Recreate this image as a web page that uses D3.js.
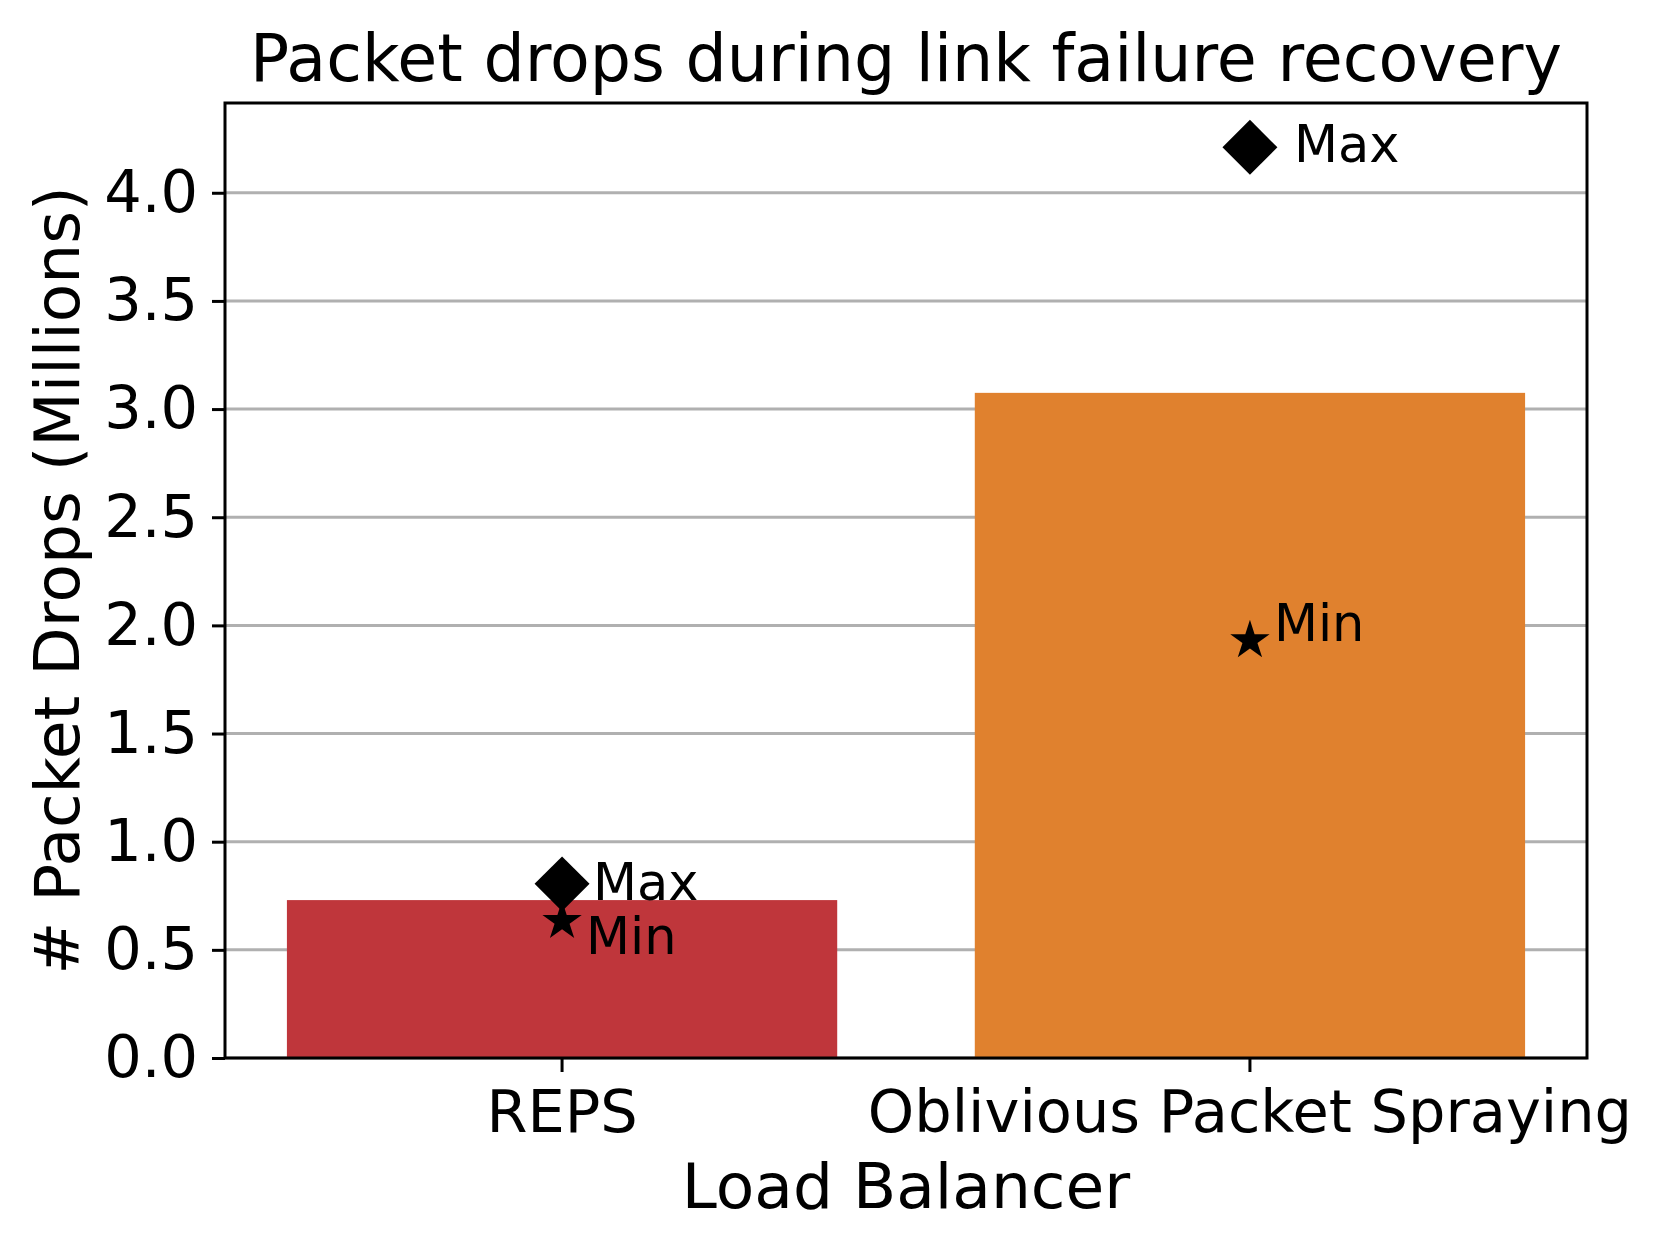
<!DOCTYPE html>
<html>
<head>
<meta charset="utf-8">
<script src="https://cdn.jsdelivr.net/npm/d3@7"></script>
<style>
  body { margin: 0; background: #fff; }
  text { font-family: 'DejaVu Sans', sans-serif; fill: #000; }
</style>
</head>
<body>
<div id="chart"></div>
<script>
var width = 1660;
var height = 1248;

var margin = { top: 103, right: 73, bottom: 190, left: 225 };

// data (millions of packet drops)
var categories = ['REPS', 'Oblivious Packet Spraying'];
var meanDrops = [0.73, 3.075];
var maxDrops = [0.805, 4.21];
var minDrops = [0.632, 1.93];
var barColors = ['#bf363b', '#e0812e'];
var yTicks = [0, 0.5, 1, 1.5, 2, 2.5, 3, 3.5, 4];

// label nudges in pixels, [dx, dy] per category
var maxLabelNudge = [[31, 16], [44, 15]];
var minLabelNudge = [[24, 33], [24, 0]];

document.addEventListener('DOMContentLoaded', init, false);

function init() {
  var w = width - margin.left - margin.right;
  var h = height - margin.top - margin.bottom;

  var svg = d3.select('#chart')
    .append('svg')
      .attr('width', width)
      .attr('height', height);

  svg.append('rect')
    .attr('width', width)
    .attr('height', height)
    .attr('fill', '#fff');

  var chart = svg.append('g')
    .attr('transform', 'translate(' + margin.left + ',' + margin.top + ')');

  var x = d3.scaleBand()
    .domain(categories)
    .range([0, w])
    .paddingInner(0.2)
    .paddingOuter(0.09);

  var y = d3.scaleLinear()
    .domain([0, 4.415])
    .range([h, 0]);

  // grid
  chart.append('g')
    .selectAll('line')
    .data(yTicks)
    .enter()
    .append('line')
      .attr('x1', 0)
      .attr('x2', w)
      .attr('y1', function (d) { return y(d); })
      .attr('y2', function (d) { return y(d); })
      .attr('stroke', '#b0b0b0')
      .attr('stroke-width', 3);

  // bars
  chart.selectAll('.bar')
    .data(categories)
    .enter()
    .append('rect')
      .attr('class', 'bar')
      .attr('x', function (d) { return x(d); })
      .attr('width', x.bandwidth())
      .attr('y', function (d, i) { return y(meanDrops[i]); })
      .attr('height', function (d, i) { return h - y(meanDrops[i]); })
      .attr('fill', function (d, i) { return barColors[i]; });

  // axes
  var yAxis = chart.append('g')
    .call(d3.axisLeft(y).tickValues(yTicks).tickFormat(d3.format('.1f')).tickSize(13).tickPadding(14));

  var xAxis = chart.append('g')
    .attr('transform', 'translate(0,' + h + ')')
    .call(d3.axisBottom(x).tickSize(14).tickPadding(18));

  [yAxis, xAxis].forEach(function (a) {
    a.select('.domain').remove();
    a.selectAll('line').attr('stroke', '#000').attr('stroke-width', 3);
    a.selectAll('text')
      .style('font-family', "'DejaVu Sans', sans-serif")
      .style('font-size', '59px')
      .attr('fill', '#000');
  });

  chart.append('rect')
    .attr('width', w)
    .attr('height', h)
    .attr('fill', 'none')
    .attr('stroke', '#000')
    .attr('stroke-width', 3);

  // markers
  var cx = function (i) { return x(categories[i]) + x.bandwidth() / 2; };

  var diamond = d3.symbol().type(d3.symbolSquare).size(1510);
  var star = d3.symbol().type(d3.symbolStar).size(480);

  chart.selectAll('.maxMark')
    .data(maxDrops)
    .enter()
    .append('path')
      .attr('d', diamond)
      .attr('transform', function (d, i) {
        return 'translate(' + cx(i) + ',' + y(d) + ') rotate(45)';
      })
      .attr('fill', '#000');

  chart.selectAll('.minMark')
    .data(minDrops)
    .enter()
    .append('path')
      .attr('d', star)
      .attr('transform', function (d, i) {
        return 'translate(' + cx(i) + ',' + y(d) + ')';
      })
      .attr('fill', '#000');

  chart.selectAll('.maxLabel')
    .data(maxDrops)
    .enter()
    .append('text')
      .attr('x', function (d, i) { return cx(i) + maxLabelNudge[i][0]; })
      .attr('y', function (d, i) { return y(d) + maxLabelNudge[i][1]; })
      .style('font-size', '51px')
      .text('Max');

  chart.selectAll('.minLabel')
    .data(minDrops)
    .enter()
    .append('text')
      .attr('x', function (d, i) { return cx(i) + minLabelNudge[i][0]; })
      .attr('y', function (d, i) { return y(d) + minLabelNudge[i][1]; })
      .style('font-size', '51px')
      .text('Min');

  // titles
  chart.append('text')
    .attr('x', w / 2)
    .attr('y', -22)
    .attr('text-anchor', 'middle')
    .style('font-size', '65px')
    .text('Packet drops during link failure recovery');

  chart.append('text')
    .attr('x', w / 2)
    .attr('y', h + 150)
    .attr('text-anchor', 'middle')
    .style('font-size', '63px')
    .text('Load Balancer');

  chart.append('text')
    .attr('transform', 'translate(' + (79 - margin.left) + ',' + (h / 2) + ') rotate(-90)')
    .attr('text-anchor', 'middle')
    .style('font-size', '63px')
    .text('# Packet Drops (Millions)');
}
</script>
</body>
</html>
